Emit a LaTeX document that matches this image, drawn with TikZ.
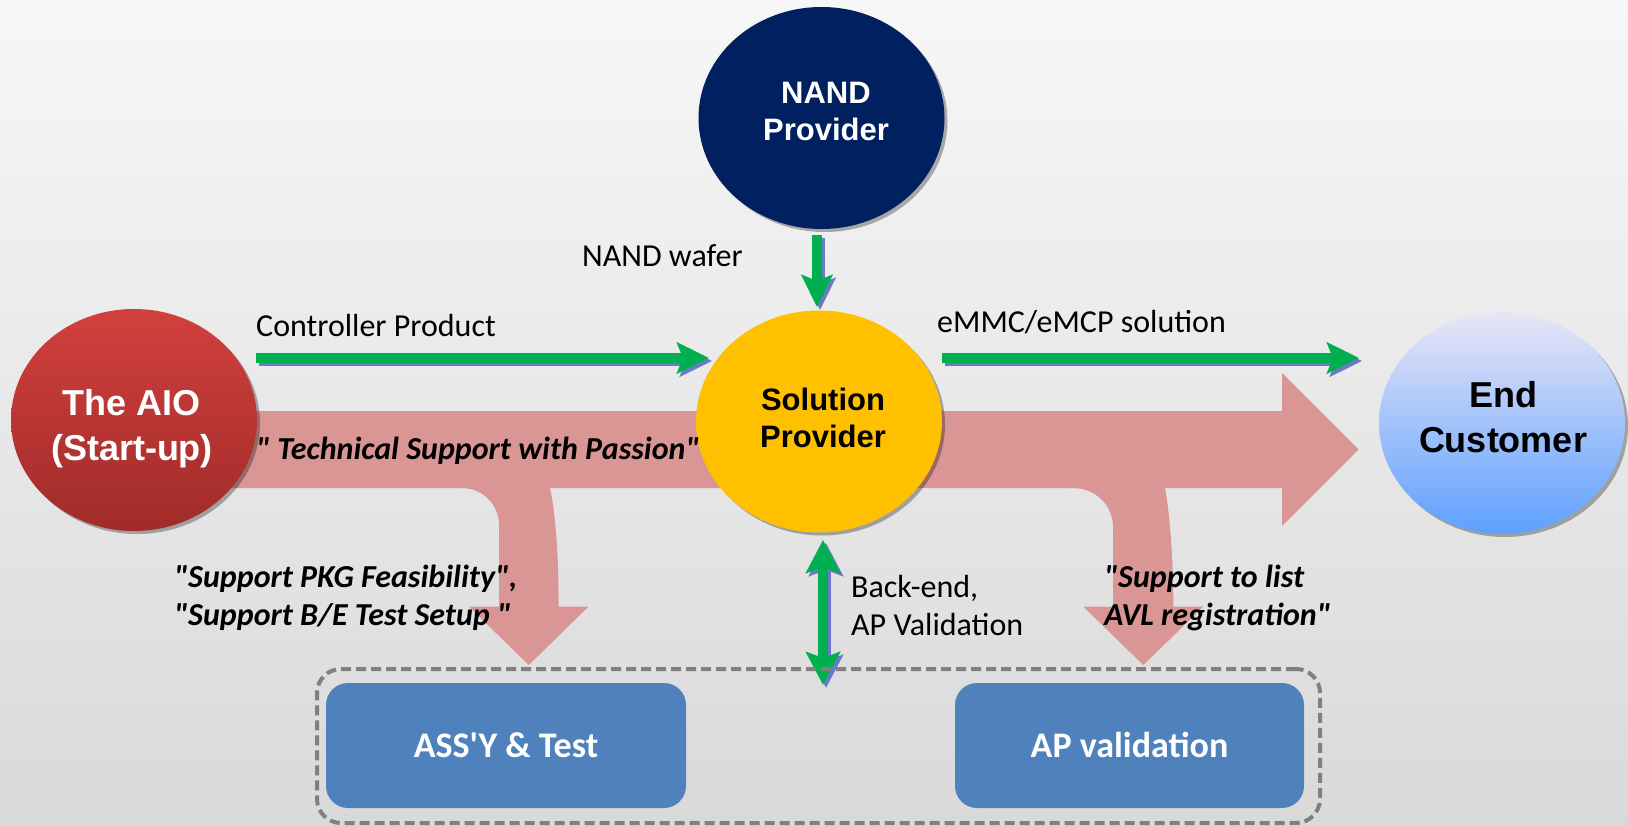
\documentclass[tikz,border=0pt]{standalone}
\usepackage{fontspec}
\newfontfamily\calfont{Carlito}[Ligatures=TeXOff]
\newfontfamily\arfont{Liberation Sans}[Ligatures=TeXOff]
\usetikzlibrary{shapes.geometric,arrows.meta,shadows}
\definecolor{bgtop}{HTML}{F7F7F7}
\definecolor{bgbot}{HTML}{D9D9D9}
\definecolor{pinkarrow}{HTML}{D99694}
\definecolor{arrowgreen}{HTML}{00B050}
\definecolor{shadowblue}{HTML}{6A7AC4}
\definecolor{nandblue}{HTML}{002060}
\definecolor{solyellow}{HTML}{FFC000}
\definecolor{aiotop}{HTML}{D2403E}
\definecolor{aiobot}{HTML}{A02B29}
\definecolor{endtop}{HTML}{E8E6F6}
\definecolor{endbot}{HTML}{5EA0FF}
\definecolor{boxblue}{HTML}{4F81BD}
\definecolor{grpgray}{HTML}{808080}
\tikzset{
  ell/.style={ellipse, minimum width=246pt, minimum height=222pt, inner sep=0pt,
    drop shadow={shadow xshift=3pt, shadow yshift=-3pt, fill=black, opacity=0.3}},
  eltext/.style={font=\arfont\bfseries\fontsize{31}{37.5}\selectfont, inner sep=0pt, anchor=base},
  eltextbig/.style={font=\arfont\bfseries\fontsize{36}{45}\selectfont, inner sep=0pt, anchor=base},
  lab/.style={font=\calfont\fontsize{32}{37.5}\selectfont, inner sep=0pt, anchor=base west},
  qlab/.style={font=\calfont\bfseries\itshape\fontsize{32}{38}\selectfont, inner sep=0pt, anchor=base west},
  bluebox/.style={rectangle, rounded corners=22pt, fill=boxblue, minimum height=125pt, inner sep=0pt,
    text=white, font=\calfont\bfseries\fontsize{36}{43}\selectfont, text height=23.2pt, text depth=0pt},
  grpbox/.style={rectangle, rounded corners=24pt, draw=grpgray, line width=4pt, dash pattern=on 10pt off 5pt, inner sep=0pt},
  gline/.style={line width=10pt, -{Stealth[length=32pt,width=31pt,inset=6pt]}},
  gdouble/.style={{Stealth[length=33pt,width=34pt,inset=6pt]}-{Stealth[length=33pt,width=34pt,inset=6pt]}}
}
\newcommand\greenarrow[3][]{%
  \draw[gline,#1,draw=shadowblue,transform canvas={xshift=3pt,yshift=-3pt}] (#2) -- (#3);
  \draw[gline,#1,draw=arrowgreen] (#2) -- (#3);}
\begin{document}
\begin{tikzpicture}[x=1pt,y=-1pt]
\useasboundingbox (0,0) rectangle (1628,826);
\shade[top color=bgtop,bottom color=bgbot] (0,0) rectangle (1628,826);
% big pink arrow
\fill[pinkarrow] (200,411) -- (1282,411) -- (1282,373) -- (1358.5,449.5) -- (1282,526) -- (1282,488) -- (200,488) -- cycle;
% left branch
\fill[pinkarrow] (455,450) -- (455,488) -- (462,488) .. controls (482.4,488) and (499,504.6) .. (499,525)
  -- (499,606.7) -- (469,606.7) -- (528.8,665) -- (588.4,606.7) -- (558.6,606.7)
  .. controls (558.6,560) and (556,515) .. (550,488) -- (550,450) -- cycle;
% right branch
\fill[pinkarrow] (1065,450) -- (1065,488) -- (1073,488) .. controls (1095,488) and (1113,505) .. (1113,527)
  -- (1113,606.7) -- (1083.3,606.7) -- (1143.3,665) -- (1203.3,606.7) -- (1173.3,606.7)
  .. controls (1173.3,560) and (1170,515) .. (1165,488) -- (1165,450) -- cycle;
% ellipses
\node[ell, fill=nandblue] (nand) at (821.5,118) {};
\node[ell, fill=solyellow] (sol) at (819,421.5) {};
\node[ell, top color=aiotop, bottom color=aiobot] (aio) at (134,420) {};
\node[ell, top color=endtop, bottom color=endbot] (endc) at (1502,423) {};
\node[eltext, text=white] (nandtxt) at (826,103.5) {\begin{tabular}[t]{@{}c@{}}NAND\\Provider\end{tabular}};
\node[eltext] (soltxt) at (823,410) {\begin{tabular}[t]{@{}c@{}}Solution\\Provider\end{tabular}};
\node[eltextbig, text=white] (aiotxt) at (132,415.5) {\begin{tabular}[t]{@{}c@{}}The AIO\\(Start-up)\end{tabular}};
\node[eltextbig] (endtxt) at (1503,407) {\begin{tabular}[t]{@{}c@{}}End\\Customer\end{tabular}};
% labels
\node[lab] (cpl) at (256,337) {Controller Product};
\node[lab] (nwl) at (582,267) {NAND wafer};
\node[lab] (eml) at (937,333) {eMMC/eMCP solution};
\node[lab] (bel) at (851,597.5) {\begin{tabular}[t]{@{}l@{}}Back-end,\\AP Validation\end{tabular}};
\node[qlab] (tsp) at (256,459) {" Technical Support with Passion"};
\node[qlab] (pkg) at (174,587.5) {\begin{tabular}[t]{@{}l@{}}"Support PKG Feasibility",\\"Support B/E Test Setup "\end{tabular}};
\node[qlab] (avl) at (1104,587) {\begin{tabular}[t]{@{}l@{}}"Support to list\\AVL registration"\end{tabular}};
% green arrows
\coordinate (cpA) at (256,358);
\coordinate (cpB) at (709,358);
\coordinate (emA) at (942,358);
\coordinate (emB) at (1359,358);
\coordinate (nwA) at (817,235);
\coordinate (nwB) at (817,307);
\coordinate (beA) at (823,540);
\coordinate (beB) at (823,685);
\greenarrow{cpA}{cpB}
\greenarrow{emA}{emB}
\greenarrow{nwA}{nwB}
\greenarrow[gdouble]{beA}{beB}
% bottom group
\node[grpbox, minimum width=1003pt, minimum height=154pt] (grp) at (818.5,746) {};
\node[bluebox, minimum width=360pt] (assy) at (506,745.5) {ASS'Y \& Test};
\node[bluebox, minimum width=349pt] (apv) at (1129.5,745.5) {AP validation};
\end{tikzpicture}
\end{document}
